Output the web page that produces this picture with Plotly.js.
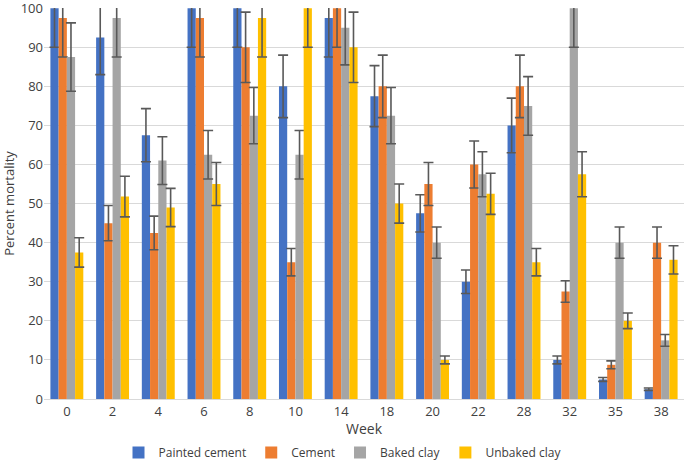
<!DOCTYPE html>
<html>
<head>
<meta charset="utf-8">
<script src="https://cdn.plot.ly/plotly-3.0.1.min.js"></script>
<style>html,body{margin:0;padding:0;background:#fff;}#chart{width:685px;height:467px;}</style>
</head>
<body>
<div id="chart"></div>
<script>
const weeks = ['0','2','4','6','8','10','14','18','20','22','28','32','35','38'];

const paintedCement    = [100, 92.5, 67.5, 100, 100, 80, 97.5, 77.5, 47.5, 30, 70, 10, 5, 2.5];
const paintedCementErr = [10, 9.5, 6.8, 10, 10, 8, 10, 7.8, 4.75, 3, 7, 1, 0.5, 0.3];

const cement    = [97.5, 45, 42.5, 97.5, 90, 35, 100, 80, 55, 60, 80, 27.5, 8.75, 40];
const cementErr = [10, 4.5, 4.3, 10, 9, 3.5, 10, 8, 5.5, 6, 8, 2.75, 1, 4];

const bakedClay    = [87.5, 97.5, 61, 62.5, 72.5, 62.5, 95, 72.5, 40, 57.5, 75, 100, 40, 15];
const bakedClayErr = [8.75, 10, 6.1, 6.2, 7.2, 6.2, 9.5, 7.2, 4, 5.75, 7.5, 10, 4, 1.5];

const unbakedClay    = [37.5, 51.8, 49, 55, 97.5, 100, 90, 50, 10, 52.5, 35, 57.5, 20, 35.6];
const unbakedClayErr = [3.75, 5.2, 4.9, 5.5, 10, 10, 9, 5, 1, 5.25, 3.5, 5.75, 2, 3.6];

const yTicks = [0, 10, 20, 30, 40, 50, 60, 70, 80, 90, 100];

const seriesNames = ['Painted cement', 'Cement', 'Baked clay', 'Unbaked clay'];
const seriesColors = ['#4472C4', '#ED7D31', '#A5A5A5', '#FFC000'];
const seriesValues = [paintedCement, cement, bakedClay, unbakedClay];
const seriesErrors = [paintedCementErr, cementErr, bakedClayErr, unbakedClayErr];

const font = 'Open Sans, Liberation Sans, sans-serif';

const traces = seriesNames.map((name, i) => ({
  type: 'bar',
  name: name,
  x: weeks,
  y: seriesValues[i],
  marker: {color: seriesColors[i], line: {width: 0}},
  error_y: {type: 'data', array: seriesErrors[i], visible: true, color: '#595959', thickness: 1.6, width: 5},
  cliponaxis: true
}));

const layout = {
  width: 685, height: 467,
  margin: {l: 44, r: 1, t: 8, b: 68},
  paper_bgcolor: '#ffffff', plot_bgcolor: '#ffffff',
  font: {family: font, size: 12, color: '#404040'},
  barmode: 'group',
  bargap: 0.28,
  bargroupgap: 0,
  xaxis: {
    type: 'category',
    automargin: true,
    showgrid: false,
    showline: true, linecolor: '#d9d9d9', linewidth: 1,
    ticks: '',
    tickfont: {family: font, size: 13, color: '#404040'},
    title: {text: 'Week', font: {family: font, size: 14, color: '#404040'}, standoff: 8}
  },
  yaxis: {
    range: [0, 100.05],
    automargin: false,
    tickmode: 'array',
    tickvals: yTicks,
    ticktext: yTicks.map(String),
    ticklabeloverflow: 'allow',
    showgrid: true, gridcolor: '#d9d9d9', gridwidth: 1,
    zeroline: false,
    showline: false,
    ticks: '',
    tickfont: {family: font, size: 13, color: '#404040'},
    title: {text: 'Percent mortality', font: {family: font, size: 13, color: '#404040'}, standoff: 6}
  },
  legend: {
    orientation: 'h',
    x: 0.5, xanchor: 'center', xref: 'container',
    y: -0.012, yanchor: 'bottom', yref: 'container',
    font: {family: font, size: 12, color: '#404040'},
    itemwidth: 30,
    traceorder: 'normal'
  },
  showlegend: true
};

Plotly.newPlot('chart', traces, layout, {displayModeBar: false, staticPlot: true});
</script>
</body>
</html>
